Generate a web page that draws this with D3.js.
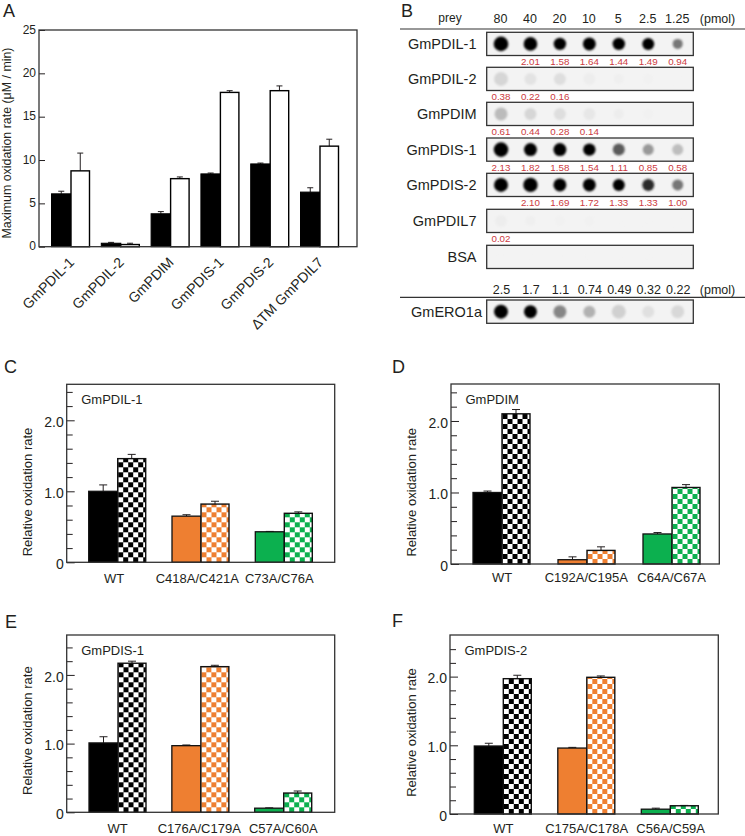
<!DOCTYPE html>
<html><head><meta charset="utf-8">
<script src="https://cdn.jsdelivr.net/npm/d3@7/dist/d3.min.js"></script>
<style>
html,body{margin:0;padding:0;background:#fff;overflow:hidden}
svg{display:block}
text{font-family:"Liberation Sans",Arial,sans-serif;fill:#231f20}
</style></head><body>
<script>
// ---------- Panel A data ----------
const aCategories = ["GmPDIL-1","GmPDIL-2","GmPDIM","GmPDIS-1","GmPDIS-2","ΔTM GmPDIL7"];
const aBlack      = [6.1,0.4,3.8,8.4,9.55,6.3];
const aBlackErr   = [6.4,0.5,4.05,8.5,9.65,6.8];
const aWhite      = [8.75,0.25,7.85,17.8,18.0,11.6];
const aWhiteErr   = [10.8,0.4,8.05,18.0,18.55,12.4];
const aTicks      = [0,5,10,15,20,25];

// ---------- Panel B data ----------
const preyAmounts = ["80","40","20","10","5","2.5","1.25"];
const eroAmounts  = ["2.5","1.7","1.1","0.74","0.49","0.32","0.22"];
const blotNames   = ["GmPDIL-1","GmPDIL-2","GmPDIM","GmPDIS-1","GmPDIS-2","GmPDIL7","BSA"];
const blotDark = [
  [1,1,1,1,1,1,.58],
  [.14,.08,.1,.03,.02,.01,0],
  [.27,.14,.1,.06,.03,.01,0],
  [1,1,1,1,.68,.44,.26],
  [1,1,1,1,1,.85,.58],
  [.03,.02,.01,.01,0,0,0],
  [0,0,0,0,0,0,0]
];
const blotSize = [
  [7.3,6.8,6.2,6.5,6.2,6,5],
  [7,6,6,6,5,5,5],
  [6.5,6,6,6,5,5,5],
  [7.3,6.5,6.5,6.2,6,5.5,5.5],
  [7,7.2,6.5,6.5,6,6,5.5],
  [6,5,5,5,5,5,5],
  [5,5,5,5,5,5,5]
];
const blotRatios = [
  ["","2.01","1.58","1.64","1.44","1.49","0.94"],
  ["0.38","0.22","0.16","","","",""],
  ["0.61","0.44","0.28","0.14","","",""],
  ["2.13","1.82","1.58","1.54","1.11","0.85","0.58"],
  ["","2.10","1.69","1.72","1.33","1.33","1.00"],
  ["0.02","","","","","",""],
  ["","","","","","",""]
];
const eroDark = [1,1,.52,.32,.17,.09,.13];
const eroSize = [7,6.5,6.5,6,7,6,6.5];

// ---------- Panels C-F data ----------
const cCats = ["WT","C418A/C421A","C73A/C76A"];
const cSolid = [1.0,0.65,0.43],   cSolidErr = [1.09,0.67,0.435];
const cCheck = [1.46,0.82,0.69],  cCheckErr = [1.52,0.86,0.71];
const dCats = ["WT","C192A/C195A","C64A/C67A"];
const dSolid = [1.0,0.06,0.42],   dSolidErr = [1.02,0.10,0.44];
const dCheck = [2.1,0.19,1.07],   dCheckErr = [2.16,0.24,1.11];
const eCats = ["WT","C176A/C179A","C57A/C60A"];
const eSolid = [1.01,0.97,0.06],  eSolidErr = [1.1,0.98,0.065];
const eCheck = [2.17,2.12,0.28],  eCheckErr = [2.2,2.14,0.31];
const fCats = ["WT","C175A/C178A","C56A/C59A"];
const fSolid = [0.99,0.96,0.07],  fSolidErr = [1.03,0.97,0.085];
const fCheck = [1.97,1.99,0.12],  fCheckErr = [2.02,2.01,0.125];
const groupColors = ["#000000","#ee7f31","#0cb04f"];
const majorTicks = [0,1,2];
const minorTicks = [0.2,0.4,0.6,0.8,1.2,1.4,1.6,1.8,2.2,2.4];

// ---------- drawing ----------
const ink = "#231f20";
const svg = d3.select("body").append("svg").attr("width",745).attr("height",836);
const defs = svg.append("defs");
defs.append("filter").attr("id","soft").attr("x","-50%").attr("y","-50%").attr("width","200%").attr("height","200%")
  .append("feGaussianBlur").attr("stdDeviation",0.9);

function letter(t,x,y){ svg.append("text").attr("x",x).attr("y",y).attr("font-size",18).text(t); }
function frame(g,x0,x1,y0,y1){
  g.append("rect").attr("x",x0).attr("y",y0).attr("width",x1-x0).attr("height",y1-y0)
   .attr("fill","none").attr("stroke","#333").attr("stroke-width",1.3);
}
function whisker(g,cx,yTop,yBase,cap){
  g.append("line").attr("x1",cx).attr("x2",cx).attr("y1",yTop).attr("y2",yBase).attr("stroke",ink).attr("stroke-width",1);
  g.append("line").attr("x1",cx-cap/2).attr("x2",cx+cap/2).attr("y1",yTop).attr("y2",yTop).attr("stroke",ink).attr("stroke-width",1);
}

// ---- Panel A ----
(function(){
  const g = svg.append("g");
  const X0=39,X1=357,Y0=30,Y1=246.7;
  const y = d3.scaleLinear().domain([0,25]).range([Y1,Y0]);
  const x = d3.scalePoint().domain(aCategories).range([71,320]);
  const wL=19.5,wR=18.5;
  aCategories.forEach((c,i)=>{
    whisker(g,x(c)-wL/2,y(aBlackErr[i]),y(aBlack[i]),6);
    whisker(g,x(c)+wR/2,y(aWhiteErr[i]),y(aWhite[i]),6);
    g.append("rect").attr("x",x(c)-wL).attr("y",y(aBlack[i])).attr("width",wL).attr("height",y(0)-y(aBlack[i]))
      .attr("fill","#000").attr("stroke","#000").attr("stroke-width",1);
    g.append("rect").attr("x",x(c)).attr("y",y(aWhite[i])).attr("width",wR).attr("height",y(0)-y(aWhite[i]))
      .attr("fill","#fff").attr("stroke","#000").attr("stroke-width",1.4);
    g.append("text").attr("font-size",14).attr("text-anchor","end")
      .attr("transform",`translate(${x(c)+4},${Y1+16.5}) rotate(-45)`).text(c);
  });
  const ax = g.append("g").attr("transform",`translate(${X0},0)`)
    .call(d3.axisLeft(y).tickValues(aTicks).tickSize(-6).tickPadding(3));
  ax.select(".domain").remove();
  ax.selectAll("line").attr("stroke",ink);
  ax.selectAll("text").attr("font-size",12).attr("font-family","Liberation Sans").attr("fill",ink).attr("dy","0.25em");
  frame(g,X0,X1,Y0,Y1);
  g.append("text").attr("font-size",12.4).attr("text-anchor","middle")
    .attr("transform",`translate(10.5,143) rotate(-90)`).text("Maximum oxidation rate (μM / min)");
})();

// ---- Panel B ----
(function(){
  const g = svg.append("g");
  const x = d3.scalePoint().domain(d3.range(7)).range([501,677.7]);
  const shade = d3.scaleLinear().domain([0,.5,1]).range(["#f3f3f3","#8c8c8c","#000000"]);
  const F0=486.7,F1=693.3;
  const rowTop = [32.3,67.3,102.3,138,173.3,209.3,245.3];
  const rowH = 23.2;
  g.append("text").attr("x",450).attr("y",22).attr("text-anchor","middle").attr("font-size",12).text("prey");
  preyAmounts.forEach((t,i)=>g.append("text").attr("x",x(i)-.5).attr("y",22.5).attr("text-anchor","middle").attr("font-size",12.5).text(t));
  g.append("text").attr("x",717.5).attr("y",22.5).attr("text-anchor","middle").attr("font-size",12.5).text("(pmol)");
  g.append("line").attr("x1",400).attr("x2",745).attr("y1",29).attr("y2",29).attr("stroke","#333").attr("stroke-width",1.2);

  function strip(top,h,dark,size){
    g.append("rect").attr("x",F0).attr("y",top).attr("width",F1-F0).attr("height",h).attr("fill","#f3f3f3");
    g.selectAll(null).data(dark).enter().append("circle")
      .attr("cx",(d,i)=>x(i)).attr("cy",top+h/2).attr("r",(d,i)=>size[i])
      .attr("fill",d=>shade(d)).attr("filter","url(#soft)");
    frame(g,F0,F1,top,top+h);
  }
  blotNames.forEach((n,r)=>{
    strip(rowTop[r],rowH,blotDark[r],blotSize[r]);
    g.append("text").attr("x",476.5).attr("y",rowTop[r]+rowH/2+5).attr("text-anchor","end").attr("font-size",14.5).text(n);
    blotRatios[r].forEach((t,i)=>{ if(t) g.append("text").attr("x",x(i)).attr("y",rowTop[r]+rowH+9.7)
      .attr("text-anchor","middle").attr("font-size",9.8).style("fill","#cc3a41").text(t); });
  });
  eroAmounts.forEach((t,i)=>g.append("text").attr("x",x(i)+.5).attr("y",294).attr("text-anchor","middle").attr("font-size",12.5).text(t));
  g.append("text").attr("x",717.5).attr("y",294).attr("text-anchor","middle").attr("font-size",12.5).text("(pmol)");
  g.append("line").attr("x1",400).attr("x2",745).attr("y1",297.3).attr("y2",297.3).attr("stroke","#333").attr("stroke-width",1.2);
  strip(300,23.3,eroDark,eroSize);
  g.append("text").attr("x",482).attr("y",316.5).attr("text-anchor","end").attr("font-size",14.5).text("GmERO1a");
})();

// ---- Panels C-F ----
function relPanel(o){
  const g = svg.append("g");
  const y = d3.scaleLinear().domain([0,o.top]).range([o.y1,o.y0]);
  const x = d3.scalePoint().domain(o.cats).range(o.xr);
  const wL=29,wR=28,cell=5;
  o.cats.forEach((c,i)=>{
    const color = groupColors[i], left = x(c);
    const pid = `chk-${o.id}-${i}`;
    const p = defs.append("pattern").attr("id",pid).attr("patternUnits","userSpaceOnUse")
      .attr("width",cell*2).attr("height",cell*2)
      .attr("patternTransform",`translate(${left+0.5},${o.y1})`);
    p.append("rect").attr("width",cell*2).attr("height",cell*2).attr("fill","#fff");
    p.append("rect").attr("width",cell).attr("height",cell).attr("fill",color);
    p.append("rect").attr("x",cell).attr("y",cell).attr("width",cell).attr("height",cell).attr("fill",color);
    whisker(g,left-wL/2,y(o.solidErr[i]),y(o.solid[i]),8);
    whisker(g,left+wR/2,y(o.checkErr[i]),y(o.check[i]),8);
    g.append("rect").attr("x",left-wL).attr("y",y(o.solid[i])).attr("width",wL).attr("height",y(0)-y(o.solid[i]))
      .attr("fill",color).attr("stroke","#111").attr("stroke-width",1.3);
    g.append("rect").attr("x",left).attr("y",y(o.check[i])).attr("width",wR).attr("height",y(0)-y(o.check[i]))
      .attr("fill",`url(#${pid})`).attr("stroke","#111").attr("stroke-width",1.4);
    g.append("text").attr("x",o.labelX[i]).attr("y",o.labelY).attr("text-anchor","middle").attr("font-size",13).text(c);
  });
  const major = g.append("g").attr("transform",`translate(${o.x0},0)`)
    .call(d3.axisLeft(y).tickValues(majorTicks).tickSize(-8).tickPadding(3)
      .tickFormat(d=>d===0?"0":d3.format(".1f")(d)));
  major.select(".domain").remove();
  major.selectAll("line").attr("stroke",ink);
  major.selectAll("text").attr("font-size",14).attr("font-family","Liberation Sans").attr("fill",ink).attr("dy","0.45em");
  const minor = g.append("g").attr("transform",`translate(${o.x0},0)`)
    .call(d3.axisLeft(y).tickValues(minorTicks).tickSize(-6).tickFormat(""));
  minor.select(".domain").remove();
  minor.selectAll("line").attr("stroke",ink);
  frame(g,o.x0,o.x1,o.y0,o.y1);
  g.append("text").attr("x",o.x0+14.5).attr("y",o.y0+19.7).attr("font-size",13).text(o.name);
  g.append("text").attr("font-size",13).attr("text-anchor","middle")
    .attr("transform",`translate(${o.titleX},${o.titleY}) rotate(-90)`).text("Relative oxidation rate");
}
relPanel({id:"c",name:"GmPDIL-1",cats:cCats,solid:cSolid,solidErr:cSolidErr,check:cCheck,checkErr:cCheckErr,
  x0:66.7,x1:334.7,y0:384.3,y1:562.3,top:2.507,xr:[117.7,284.3],labelX:[114,197.3,279.3],labelY:583,titleX:32,titleY:492});
relPanel({id:"d",name:"GmPDIM",cats:dCats,solid:dSolid,solidErr:dSolidErr,check:dCheck,checkErr:dCheckErr,
  x0:451,x1:719.3,y0:384,y1:564,top:2.517,xr:[502,672],labelX:[502,586.3,671.7],labelY:581.7,titleX:416,titleY:492.3});
relPanel({id:"e",name:"GmPDIS-1",cats:eCats,solid:eSolid,solidErr:eSolidErr,check:eCheck,checkErr:eCheckErr,
  x0:66.7,x1:334.7,y0:635,y1:812.3,top:2.581,xr:[118,283.7],labelX:[117.7,199.3,283.3],labelY:832.5,titleX:32,titleY:730.7});
relPanel({id:"f",name:"GmPDIS-2",cats:fCats,solid:fSolid,solidErr:fSolidErr,check:fCheck,checkErr:fCheckErr,
  x0:450,x1:718.3,y0:635,y1:814,top:2.606,xr:[503.3,670.3],labelX:[503.3,586.7,670.7],labelY:833,titleX:416,titleY:732.5});

letter("A",3,16.5); letter("B",401,16.5); letter("C",4,373);
letter("D",392,373); letter("E",5,628); letter("F",392,627);
</script>
</body></html>
